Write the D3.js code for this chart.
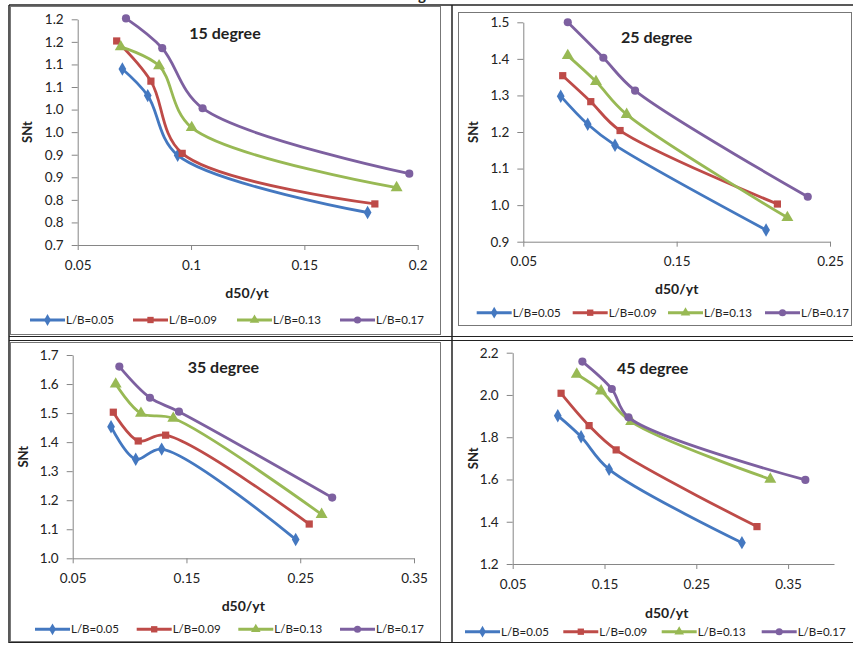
<!DOCTYPE html>
<html>
<head>
<meta charset="utf-8">
<script src="https://cdn.jsdelivr.net/npm/d3@7"></script>
<style>
  body { margin: 0; background: white; }
  svg { display: block; }
  text { font-family: Lato, "Liberation Sans", sans-serif; fill: #222; }
</style>
</head>
<body>
<div id="chart"></div>
<script>
// series shared by the four panels
const seriesNames = ["L/B=0.05", "L/B=0.09", "L/B=0.13", "L/B=0.17"];
const seriesColors = ["#4478c0", "#be4b48", "#98b954", "#7d60a0"];
const seriesSymbols = [d3.symbolDiamond, d3.symbolSquare, d3.symbolTriangle, d3.symbolCircle];

// 15 degree
const x15 = [[0.0697, 0.0809, 0.0941, 0.1779],
             [0.0672, 0.0823, 0.0961, 0.1811],
             [0.0690, 0.0859, 0.1003, 0.1907],
             [0.0713, 0.0873, 0.1051, 0.1963]];
const y15 = [[1.090, 1.031, 0.899, 0.772],
             [1.152, 1.063, 0.903, 0.791],
             [1.139, 1.097, 0.960, 0.827],
             [1.202, 1.136, 1.003, 0.858]];
const xTicks15 = [0.05, 0.1, 0.15, 0.2];
const xLabels15 = ["0.05", "0.1", "0.15", "0.2"];
const yTicks15 = [0.7, 0.75, 0.8, 0.85, 0.9, 0.95, 1.0, 1.05, 1.1, 1.15, 1.2];
const yLabels15 = ["0.7", "0.8", "0.8", "0.9", "0.9", "1.0", "1.0", "1.1", "1.1", "1.2", "1.2"];

// 25 degree
const x25 = [[0.0744, 0.0920, 0.1098, 0.2083],
             [0.0757, 0.0940, 0.1131, 0.2157],
             [0.0790, 0.0974, 0.1174, 0.2222],
             [0.0790, 0.1022, 0.1229, 0.2355]];
const y25 = [[1.298, 1.221, 1.164, 0.932],
             [1.354, 1.283, 1.204, 1.003],
             [1.409, 1.338, 1.248, 0.966],
             [1.500, 1.403, 1.313, 1.023]];
const xTicks25 = [0.05, 0.15, 0.25];
const xLabels25 = ["0.05", "0.15", "0.25"];
const yTicks25 = [0.9, 1.0, 1.1, 1.2, 1.3, 1.4, 1.5];
const yLabels25 = ["0.9", "1.0", "1.1", "1.2", "1.3", "1.4", "1.5"];

// 35 degree
const x35 = [[0.0837, 0.1054, 0.1282, 0.2460],
             [0.0857, 0.1076, 0.1317, 0.2579],
             [0.0878, 0.1100, 0.1384, 0.2688],
             [0.0910, 0.1179, 0.1434, 0.2781]];
const y35 = [[1.453, 1.341, 1.376, 1.065],
             [1.503, 1.404, 1.424, 1.118],
             [1.600, 1.499, 1.482, 1.151],
             [1.660, 1.553, 1.505, 1.209]];
const xTicks35 = [0.05, 0.15, 0.25, 0.35];
const xLabels35 = ["0.05", "0.15", "0.25", "0.35"];
const yTicks35 = [1.0, 1.1, 1.2, 1.3, 1.4, 1.5, 1.6, 1.7];
const yLabels35 = ["1.0", "1.1", "1.2", "1.3", "1.4", "1.5", "1.6", "1.7"];

// 45 degree
const x45 = [[0.0991, 0.1245, 0.1550, 0.2997],
             [0.1027, 0.1332, 0.1627, 0.3161],
             [0.1198, 0.1463, 0.1790, 0.3306],
             [0.1259, 0.1580, 0.1761, 0.3688]];
const y45 = [[1.902, 1.802, 1.648, 1.301],
             [2.008, 1.855, 1.740, 1.377],
             [2.098, 2.019, 1.874, 1.601],
             [2.158, 2.028, 1.894, 1.598]];
const xTicks45 = [0.05, 0.15, 0.25, 0.35];
const xLabels45 = ["0.05", "0.15", "0.25", "0.35"];
const yTicks45 = [1.2, 1.4, 1.6, 1.8, 2.0, 2.2];
const yLabels45 = ["1.2", "1.4", "1.6", "1.8", "2.0", "2.2"];

const width = 853;
const height = 646;

const svg = d3.select("#chart")
    .append("svg")
    .attr("width", width)
    .attr("height", height);

// table frame and chart boxes
const frame = svg.append("g").attr("id", "frame");
// tail of a heading cut by the top edge, as in the reference
frame.append("text")
    .attr("x", 426).attr("y", 0)
    .attr("text-anchor", "end")
    .style("font-weight", "bold").style("font-size", "15px")
    .text("g");

function box(x, y, w, h, color) {
    frame.append("rect")
        .attr("x", x).attr("y", y).attr("width", w).attr("height", h)
        .attr("fill", "none").attr("stroke", color).attr("stroke-width", 1);
}
function hline(x1, x2, y, sw) {
    frame.append("line").attr("x1", x1).attr("x2", x2).attr("y1", y).attr("y2", y)
        .attr("stroke", "#222").attr("stroke-width", sw);
}
function vline(x, y1, y2, sw) {
    frame.append("line").attr("x1", x).attr("x2", x).attr("y1", y1).attr("y2", y2)
        .attr("stroke", "#222").attr("stroke-width", sw);
}

box(10.5, 6.5, 430, 328, "#777");
box(458.5, 12.5, 393, 313, "#777");
box(10.5, 342.5, 430, 299, "#777");
hline(9, 853, 5, 1.5);
hline(9, 853, 336.5, 1.2);
hline(9, 853, 340.5, 1.2);
hline(9, 853, 642.5, 1.2);
vline(9, 5, 643, 1.5);
vline(452, 5, 643, 1.5);

const panels = [
    {xs: x15, ys: y15, xTicks: xTicks15, xLabels: xLabels15, yTicks: yTicks15, yLabels: yLabels15,
     xr: [77.7, 417.7], yr: [245, 19.3], title: "15 degree", titlePos: [225, 33],
     yTitle: [27, 132], xTitle: [247, 293], legendY: 320, legendX: [30, 133, 237, 340]},
    {xs: x25, ys: y25, xTicks: xTicks25, xLabels: xLabels25, yTicks: yTicks25, yLabels: yLabels25,
     xr: [523.3, 830], yr: [241.7, 22.3], title: "25 degree", titlePos: [656.7, 37.7],
     yTitle: [473, 132], xTitle: [676.7, 289], legendY: 312.7, legendX: [476.7, 572.7, 668, 765]},
    {xs: x35, ys: y35, xTicks: xTicks35, xLabels: xLabels35, yTicks: yTicks35, yLabels: yLabels35,
     xr: [72.7, 414], yr: [558.3, 355], title: "35 degree", titlePos: [223.3, 367.7],
     yTitle: [23.3, 456.7], xTitle: [243.3, 606], legendY: 629.3, legendX: [35, 136.7, 238.3, 340]},
    {xs: x45, ys: y45, xTicks: xTicks45, xLabels: xLabels45, yTicks: yTicks45, yLabels: yLabels45,
     xr: [512.7, 834], yr: [564, 352.7], title: "45 degree", titlePos: [652.7, 368.3],
     yTitle: [473.3, 458.3], xTitle: [666.7, 613.3], legendY: 631.7, legendX: [465, 563.3, 661.7, 761.7]}
];

const xDomains = [[0.05, 0.2], [0.05, 0.25], [0.05, 0.35], [0.05, 0.4]];
const yDomains = [[0.7, 1.2], [0.9, 1.5], [1.0, 1.7], [1.2, 2.2]];

function draw_panel(p, i) {
    const g = svg.append("g").attr("class", "panel");
    const x = d3.scaleLinear().domain(xDomains[i]).range(p.xr);
    const y = d3.scaleLinear().domain(yDomains[i]).range(p.yr);

    // axes
    const yAxis = g.append("g")
        .attr("transform", `translate(${p.xr[0]},0)`)
        .call(d3.axisLeft(y).tickValues(p.yTicks)
            .tickFormat((d, k) => p.yLabels[k]).tickSize(6).tickPadding(8).tickSizeOuter(0));
    const xAxis = g.append("g")
        .attr("transform", `translate(0,${p.yr[0]})`)
        .call(d3.axisBottom(x).tickValues(p.xTicks)
            .tickFormat((d, k) => p.xLabels[k]).tickSize(5).tickPadding(10).tickSizeOuter(0));
    [xAxis, yAxis].forEach(a => {
        a.select(".domain").attr("stroke", "#868686");
        a.selectAll(".tick line").attr("stroke", "#868686");
        a.selectAll("text").style("font-size", "13.5px").style("font-family", "Lato, sans-serif")
            .attr("fill", "#222");
    });

    // titles
    g.append("text")
        .attr("x", p.titlePos[0]).attr("y", p.titlePos[1]).attr("dy", "0.35em")
        .attr("text-anchor", "middle")
        .style("font-weight", "bold").style("font-size", "16px")
        .text(p.title);
    g.append("text")
        .attr("transform", `translate(${p.yTitle[0]},${p.yTitle[1]}) rotate(-90)`)
        .attr("dy", "0.35em").attr("text-anchor", "middle")
        .style("font-weight", "bold").style("font-size", "13px")
        .text("SNt");
    g.append("text")
        .attr("x", p.xTitle[0]).attr("y", p.xTitle[1]).attr("dy", "0.35em")
        .attr("text-anchor", "middle")
        .style("font-weight", "bold").style("font-size", "14px")
        .text("d50/yt");

    // series
    const line = d3.line()
        .x(d => x(d[0]))
        .y(d => y(d[1]))
        .curve(d3.curveCatmullRom);

    seriesNames.forEach((name, s) => {
        const pts = p.xs[s].map((v, k) => [v, p.ys[s][k]]);
        g.append("path")
            .datum(pts)
            .attr("d", line)
            .attr("fill", "none")
            .attr("stroke", seriesColors[s])
            .attr("stroke-width", 2.8)
            .attr("stroke-linejoin", "round");
        g.selectAll(null)
            .data(pts)
            .join("path")
            .attr("transform", d => `translate(${x(d[0])},${y(d[1])})`)
            .attr("d", d3.symbol().type(seriesSymbols[s]).size(s == 2 ? 62 : 52))
            .attr("fill", seriesColors[s]);

        // legend entry
        const lx = p.legendX[s];
        const lg = g.append("g").attr("transform", `translate(${lx},${p.legendY})`);
        lg.append("line")
            .attr("x1", 0).attr("x2", 35).attr("y1", 0).attr("y2", 0)
            .attr("stroke", seriesColors[s]).attr("stroke-width", 3);
        lg.append("path")
            .attr("transform", "translate(17.5,0)")
            .attr("d", d3.symbol().type(seriesSymbols[s]).size(40))
            .attr("fill", seriesColors[s]);
        lg.append("text")
            .attr("x", 36).attr("dy", "0.35em")
            .style("font-size", "11.5px")
            .text(name);
    });
}

panels.forEach((p, i) => draw_panel(p, i));
</script>
</body>
</html>
